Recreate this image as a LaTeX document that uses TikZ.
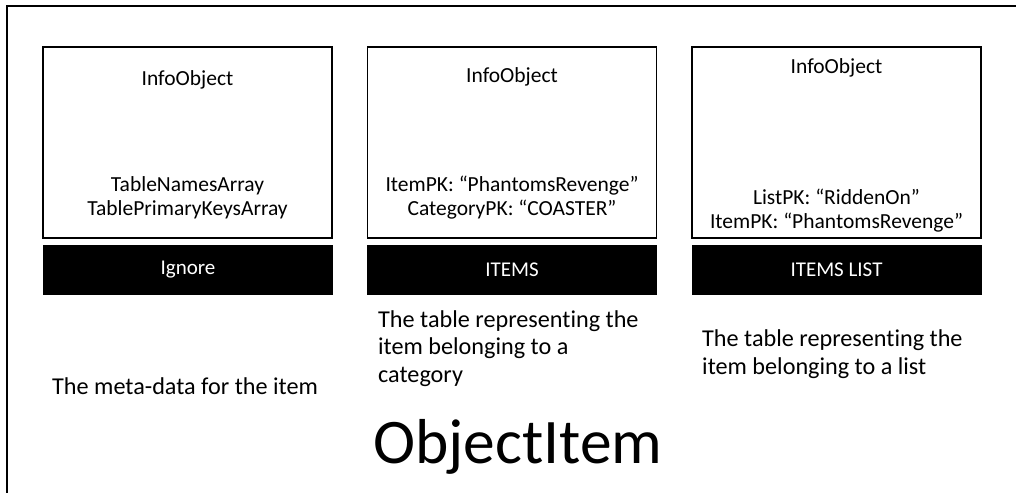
\documentclass[tikz,border=0pt]{standalone}
\usepackage{fontspec}
\setmainfont{Carlito}[Ligatures=NoCommon]
\begin{document}
\begin{tikzpicture}[x=1pt,y=-1pt,
  tablebox/.style={draw,line width=1.6pt,minimum width=289pt,minimum height=191pt,inner sep=0pt},
  tablebar/.style={fill=black,text=white,minimum width=290pt,minimum height=50pt,inner sep=0pt,font=\fontsize{21}{25}\selectfont},
  field/.style={anchor=base,inner sep=0pt,font=\fontsize{21.5}{25}\selectfont},
  note/.style={anchor=base west,inner sep=0pt,align=left,font=\fontsize{24.2}{27.5}\selectfont}]
\useasboundingbox (0,0) rectangle (1016,492);
% outer frame, running off the right and bottom edges
\begin{scope}
  \clip (0,0) rectangle (1016,492);
  \draw[line width=1.8pt] (7,520) -- (7,6) -- (1040,6);
\end{scope}
% the three tables
\node[tablebox] (b1) at (187.5,142.5) {};
\node[tablebox] (b2) at (512,142.5) {};
\node[tablebox] (b3) at (836.5,142.5) {};
\node[tablebar] (t1) at (188,270) {Ignore};
\node[tablebar] (t2) at (512,270) {ITEMS};
\node[tablebar] (t3) at (836.5,270) {ITEMS LIST};
% fields in each table
\node[field] (i1) at (187.5,86) {InfoObject};
\node[field] (i2) at (512,83) {InfoObject};
\node[field] (i3) at (836.5,74) {InfoObject};
\node[field] (f1a) at (187.5,191) {TableNamesArray};
\node[field] (f1b) at (187.5,215) {TablePrimaryKeysArray};
\node[field] (f2a) at (512,191) {ItemPK: “PhantomsRevenge”};
\node[field] (f2b) at (512,215) {CategoryPK: “COASTER”};
\node[field] (f3a) at (836.5,204) {ListPK: “RiddenOn”};
\node[field] (f3b) at (836.5,228) {ItemPK: “PhantomsRevenge”};
% descriptions (anchored at the baseline of their last line)
\node[note] (d1) at (52,394) {The meta-data for the item};
\node[note] (d2) at (378,382) {The table representing the\\item belonging to a\\category};
\node[note] (d3) at (702,374) {The table representing the\\item belonging to a list};
% title
\node[anchor=base,inner sep=0pt,font=\fontsize{63.5}{76}\selectfont] (title) at (518,463) {ObjectItem};
\end{tikzpicture}
\end{document}
